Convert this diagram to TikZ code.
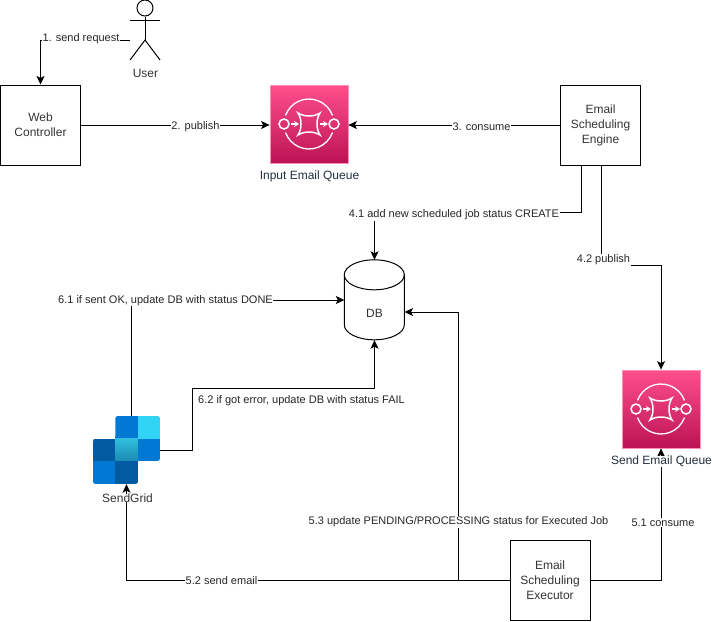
\documentclass[tikz,border=0pt]{standalone}
\usepackage{fontspec}
\setmainfont{Liberation Sans}
\usetikzlibrary{arrows.meta,positioning}
\definecolor{qtop}{HTML}{FF4F8B}
\definecolor{qbottom}{HTML}{BC1356}
\definecolor{qborder}{HTML}{FF8FB5}
\definecolor{qtext}{HTML}{232F3E}
\definecolor{gridmid}{HTML}{0078D4}
\definecolor{griddark}{HTML}{005BA1}
\definecolor{gridlight}{HTML}{32D4F5}
\definecolor{gridtop}{HTML}{32BEDD}
\definecolor{gridbottom}{HTML}{198AB3}
\tikzset{
  >={Stealth[length=8.5pt,width=8pt,inset=2pt]},
  box/.style={draw,line width=1pt,minimum width=80,minimum height=80,align=center,font=\fontsize{12}{15}\selectfont,text=black!80},
  edgelabel/.style={fill=white,inner sep=0.6pt,font=\fontsize{11}{13}\selectfont,text=black!85},
  conn/.style={->,line width=1pt},
  queuebox/.style={minimum width=78,minimum height=78,inner sep=0,draw=qborder,line width=0.8pt,top color=qtop,bottom color=qbottom},
  queuelabel/.style={font=\fontsize{12}{14}\selectfont,text=qtext,inner sep=0pt},
  tile/.style={fill=#1},
  queuemark/.pic={
    \draw[white,line width=1.3pt] (160:25) arc (160:20:25);
    \draw[white,line width=1.3pt] (200:25) arc (200:340:25);
    \draw[white,line width=1.5pt] (-25,0) circle (5) (25,0) circle (5);
    \draw[white,line width=1.5pt] (-11,-11) .. controls (-5,-7) and (5,-7) .. (11,-11)
      .. controls (7,-5) and (7,5) .. (11,11)
      .. controls (5,7) and (-5,7) .. (-11,11)
      .. controls (-7,5) and (-7,-5) .. (-11,-11) -- cycle;
    \draw[white,line width=1.3pt,-{Stealth[length=5pt,width=6pt]}] (-18,0) -- (-10,0);
    \draw[white,line width=1.3pt,-{Stealth[length=5pt,width=6pt]}] (11,0) -- (19,0);
  }
}
\begin{document}
\begin{tikzpicture}[x=1pt,y=-1pt]
  \useasboundingbox (0,0) rectangle (712,621);
  % Draw user
  \node (userhead) [circle,draw,line width=1pt,minimum size=16,inner sep=0] at (145,8) {};
  \coordinate (userhip) at (145,40);
  \coordinate (userside) at (130,40);
  \draw[line width=1pt] (userhead.south) -- (userhip);
  \draw[line width=1pt] (130,20) -- (160,20);
  \draw[line width=1pt] (130,60) -- (userhip) -- (160,60);
  \node (userlabel) [font=\fontsize{12}{14}\selectfont,text=black!80] at (145.5,73.5) {User};
  % Draw boxes
  \node (webctrl) [box] at (40.5,125) {Web\\Controller};
  \node (engine) [box] at (600.5,125) {Email\\Scheduling\\Engine};
  \node (executor) [box] at (550,580) {Email\\Scheduling\\Executor};
  % Draw queues
  \node (inputq) [queuebox] at (309,124) {};
  \pic at (inputq.center) {queuemark};
  \node (inputqlabel) [queuelabel] at (309.5,176.5) {Input Email Queue};
  \node (sendq) [queuebox] at (661,409) {};
  \pic at (sendq.center) {queuemark};
  % Draw database
  \node (db) [minimum width=60,minimum height=80,inner sep=0] at (374.5,300) {};
  \draw[line width=1pt] (db.north west) ++(0,15) arc (180:360:30 and 15) -- ++(0,50)
    arc (0:180:30 and 15) -- cycle;
  \draw[line width=1pt] (db.north west) ++(0,15) arc (180:0:30 and 15);
  \node (dblabel) [font=\fontsize{12}{14}\selectfont,text=black!80] at (374.5,313) {DB};
  % Draw SendGrid
  \node (sendgrid) [minimum width=67,minimum height=68,inner sep=0] at (126.5,450) {};
  \begin{scope}
    \clip[rounded corners=2.5pt] (115.3,416) -- (160,416) -- (160,461) -- (138,461) -- (138,484)
      -- (93,484) -- (93,438.6) -- (115.3,438.6) -- cycle;
    \fill[tile=gridmid] (115.3,416) rectangle (138,438.6);
    \fill[tile=gridlight] (138,416) rectangle (160,438.6);
    \fill[tile=griddark] (93,438.6) rectangle (115.3,461);
    \shade[top color=gridtop,bottom color=gridbottom] (115.3,438.6) rectangle (138,461);
    \fill[tile=gridmid] (138,438.6) rectangle (160,461);
    \fill[tile=gridmid] (93,461) rectangle (115.3,484);
    \fill[tile=griddark] (115.3,461) rectangle (138,484);
  \end{scope}
  % Draw the free ends
  \coordinate (engineleft) at (581,165);
  \coordinate (engineright) at (601,165);
  \coordinate (gridtopout) at (131,416);
  \coordinate (dbside) at (404.5,312);
  % Draw connectors
  \draw[conn] (userside) -| (webctrl.north);
  \node (requestlabel) [edgelabel] at (81,38.5) {1. send request};
  \draw[conn] (webctrl.east) -- (inputq.west|-webctrl.east);
  \node (publishlabel) [edgelabel] at (195.5,127) {2. publish};
  \draw[conn] (engine.west) -- (inputq.east|-engine.west);
  \node (consumeqlabel) [edgelabel] at (481.5,127) {3. consume};
  \draw[conn] (engineleft) |- (374.5,212) -- (db.north);
  \node (createlabel) [edgelabel] at (454,215) {4.1 add new scheduled job status CREATE};
  \draw[conn] (engineright) |- (661,265) -- (sendq.north);
  \node (publishtwolabel) [edgelabel] at (603.5,260) {4.2 publish};
  \draw[conn] (gridtopout) |- (db.west);
  \node (donelabel) [edgelabel] at (165.5,300.5) {6.1 if sent OK, update DB with status DONE};
  \draw[conn] (sendgrid.east) -| (192,388) -| (db.south);
  \node (faillabel) [edgelabel] at (301.5,400.5) {6.2 if got error, update DB with status FAIL};
  \draw[conn] (executor.west) -| (sendgrid.south);
  \node (sendlabel) [edgelabel] at (221.5,581) {5.2 send email};
  \draw[conn] (executor.west) -| (458,312) -- (dbside);
  \node (pendinglabel) [edgelabel] at (458.5,522) {5.3 update PENDING/PROCESSING status for Executed Job};
  \draw[conn] (executor.east) -| (sendq.south);
  \node (consumelabel) [edgelabel] at (663,522.5) {5.1 consume};
  % Draw labels above the lines
  \node (sendqlabel) [queuelabel,fill=white] at (661.5,461.5) {Send Email Queue};
  \node (gridlabel) [queuelabel,fill=white,text=black!80] at (127.5,498) {SendGrid};
\end{tikzpicture}
\end{document}
